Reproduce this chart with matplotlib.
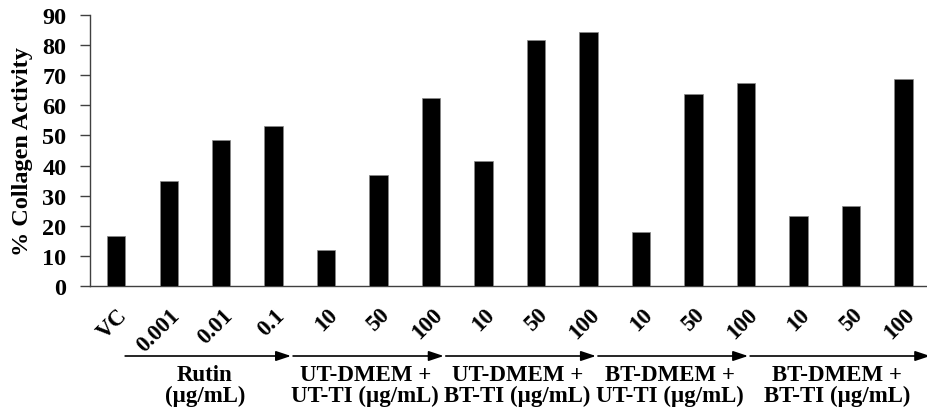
import matplotlib
matplotlib.use("Agg")
import matplotlib.pyplot as plt
from matplotlib.transforms import ScaledTranslation

categories = ["VC", "0.001", "0.01", "0.1", "10", "50", "100", "10", "50", "100",
              "10", "50", "100", "10", "50", "100"]
values = [16.5, 34.8, 48.6, 53.3, 12.0, 36.8, 62.3, 41.4, 81.7, 84.3,
          18.0, 63.8, 67.4, 23.1, 26.5, 68.9]
group_labels = ["Rutin\n(µg/mL)", "UT-DMEM +\nUT-TI (µg/mL)", "UT-DMEM +\nBT-TI (µg/mL)",
                "BT-DMEM +\nUT-TI (µg/mL)", "BT-DMEM +\nBT-TI (µg/mL)"]
y_ticks = [0, 10, 20, 30, 40, 50, 60, 70, 80, 90]

plt.rcParams['font.family'] = ['Liberation Serif', 'DejaVu Serif']
plt.rcParams['font.weight'] = 'bold'

fig = plt.figure(figsize=(9.27, 4.14), dpi=100)
ax = fig.add_axes([90/927, 1 - 287/414, 1 - 90/927, (287 - 16)/414])

x = list(range(len(values)))
ax.bar(x, values, width=0.35, color='black', edgecolor='#888888', linewidth=0.5, zorder=3)

ax.set_xlim(-0.5, 15.45)
ax.set_ylim(0, 90)
ax.set_yticks(y_ticks)
ax.set_yticklabels([str(v) for v in y_ticks], fontsize=17.5, fontweight='bold')
ax.tick_params(axis='y', direction='out', length=7, width=1, color='#404040', pad=10)
ax.set_ylabel("% Collagen Activity", fontsize=17.5, fontweight='bold')
ax.yaxis.set_label_coords(-0.068, 0.5)

ax.set_xticks(x)
ax.set_xticklabels(categories, fontsize=16.5, fontweight='bold', rotation=45,
                   ha='right', va='top', rotation_mode='anchor')
ax.tick_params(axis='x', length=0, pad=13)
for lbl in ax.get_xticklabels():
    lbl.set_transform(lbl.get_transform() + ScaledTranslation(0.5/100, 0, fig.dpi_scale_trans))

for s in ['top', 'right']:
    ax.spines[s].set_visible(False)
for s in ['left', 'bottom']:
    ax.spines[s].set_color('#404040')
    ax.spines[s].set_linewidth(1.0)

# group arrows and labels below the axis
bounds = [0.17, 3.37, 6.28, 9.18, 12.08, 15.55]
trans = ax.get_xaxis_transform()
arrow_y = (287 - 357) / 271
label_y = (287 - 386) / 271
for i, lab in enumerate(group_labels):
    x0, x1 = bounds[i], bounds[i + 1]
    ax.annotate("", xy=(x1 - 0.04, arrow_y), xytext=(x0, arrow_y), xycoords=trans,
                textcoords=trans, annotation_clip=False,
                arrowprops=dict(arrowstyle='-|>,head_length=0.9,head_width=0.3',
                                color='black', lw=1.2, shrinkA=0, shrinkB=0))
    ax.text((x0 + x1) / 2 - 0.08, label_y, lab, transform=trans, ha='center', va='center',
            fontsize=16.5, fontweight='bold', linespacing=1.0, clip_on=False)

fig.savefig("out.png", dpi=100)
